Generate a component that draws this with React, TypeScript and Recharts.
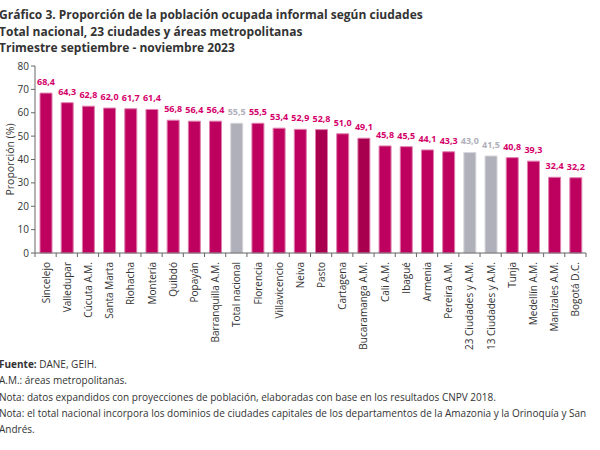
import React from "react";
import { BarChart, Bar, XAxis, YAxis, Cell, LabelList, Label } from "recharts";

const cities = [
  "Sincelejo", "Valledupar", "Cúcuta A.M.", "Santa Marta", "Riohacha", "Montería",
  "Quibdó", "Popayán", "Barranquilla A.M.", "Total nacional", "Florencia", "Villavicencio",
  "Neiva", "Pasto", "Cartagena", "Bucaramanga A.M.", "Cali A.M.", "Ibagué", "Armenia",
  "Pereira A.M.", "23 Ciudades y A.M.", "13 Ciudades y A.M.", "Tunja", "Medellín A.M.",
  "Manizales A.M.", "Bogotá D.C.",
];
const values = [
  68.4, 64.3, 62.8, 62.0, 61.7, 61.4, 56.8, 56.4, 56.4, 55.5, 55.5, 53.4, 52.9, 52.8,
  51.0, 49.1, 45.8, 45.5, 44.1, 43.3, 43.0, 41.5, 40.8, 39.3, 32.4, 32.2,
];
const aggregates = ["Total nacional", "23 Ciudades y A.M.", "13 Ciudades y A.M."];
const darker = ["Pasto", "Bucaramanga A.M."];
const yTicks = [0, 10, 20, 30, 40, 50, 60, 70, 80];

const MAGENTA = "#BE005E";
const DARK = "#A8004F";
const GREY = "#B0B0BA";

const data = cities.map((c, i) => ({ city: c, value: values[i] }));
const colorOf = (c: string) =>
  aggregates.includes(c) ? GREY : darker.includes(c) ? DARK : MAGENTA;
const labelColorOf = (c: string) => (aggregates.includes(c) ? GREY : "#D4006A");

const FONT = "'Open Sans', 'Noto Sans', sans-serif";

const XTick = (props: any) => {
  const { x, y, payload, index, visibleTicksCount } = props;
  const off = payload?.offset ?? 10.6;
  return (
    <g>
      <line x1={x - off} y1={y - 8} x2={x - off} y2={y - 4} stroke="#666" />
      {index === visibleTicksCount - 1 && (
        <line x1={x + off} y1={y - 8} x2={x + off} y2={y - 4} stroke="#666" />
      )}
      <text
        x={x + 4}
        y={y + 1}
        transform={`rotate(-90, ${x + 4}, ${y + 1})`}
        textAnchor="end"
        fontSize={10}
        fill="#333"
        fontFamily={FONT}
      >
        {payload.value}
      </text>
    </g>
  );
};

const ValueLabel = (props: any) => {
  const { x, y, width, value, index } = props;
  return (
    <text
      x={x + width / 2}
      y={y - 8}
      textAnchor="middle"
      fontSize={9}
      fontWeight="bold"
      fill={labelColorOf(cities[index])}
      fontFamily={FONT}
    >
      {Number(value).toFixed(1).replace(".", ",")}
    </text>
  );
};

export default function App() {
  return (
    <div
      style={{
        position: "absolute",
        left: 0,
        top: 0,
        width: 600,
        height: 450,
        background: "#fff",
        fontFamily: FONT,
        overflow: "hidden",
      }}
    >
      <div
        style={{
          position: "absolute",
          left: -1,
          top: 7,
          fontSize: 12,
          fontWeight: "bold",
          lineHeight: "16.5px",
          color: "#333",
        }}
      >
        <div>Gráfico 3. Proporción de la población ocupada informal según ciudades</div>
        <div>Total nacional, 23 ciudades y áreas metropolitanas</div>
        <div>Trimestre septiembre - noviembre 2023</div>
      </div>
      <div style={{ position: "absolute", left: 0, top: 0 }}>
        <BarChart
          width={600}
          height={350}
          data={data}
          margin={{ top: 66, right: 14, left: 0, bottom: 0 }}
        >
          <XAxis
            dataKey="city"
            interval={0}
            height={97}
            tickLine={false}
            axisLine={{ stroke: "#666" }}
            tick={<XTick />}
          />
          <YAxis
            width={35}
            domain={[0, 80]}
            ticks={yTicks}
            interval={0}
            tick={{ fontSize: 10, fill: "#333", fontFamily: FONT }}
            tickSize={4}
            axisLine={{ stroke: "#666" }}
            tickLine={{ stroke: "#666" }}
          >
            <Label
              value="Proporción (%)"
              angle={-90}
              position="insideLeft"
              offset={10}
              style={{ fontSize: 10.5, fill: "#333", fontFamily: FONT, textAnchor: "middle" }}
            />
          </YAxis>
          <Bar dataKey="value" barSize={12} isAnimationActive={false} strokeWidth={1}>
            {data.map((d, i) => (
              <Cell
                key={i}
                fill={colorOf(d.city)}
                stroke={aggregates.includes(d.city) ? "#D6D6DC" : "#E07FAE"}
              />
            ))}
            <LabelList dataKey="value" content={<ValueLabel />} />
          </Bar>
        </BarChart>
      </div>
      <div
        style={{
          position: "absolute",
          left: -1,
          top: 356,
          fontSize: 10,
          lineHeight: "16.3px",
          color: "#333",
        }}
      >
        <div>
          <b>Fuente:</b> DANE, GEIH.
        </div>
        <div>A.M.: áreas metropolitanas.</div>
        <div>Nota: datos expandidos con proyecciones de población, elaboradas con base en los resultados CNPV 2018.</div>
        <div>
          Nota: el total nacional incorpora los dominios de ciudades capitales de los departamentos de la Amazonia y la Orinoquía y San
        </div>
        <div>Andrés.</div>
      </div>
    </div>
  );
}
